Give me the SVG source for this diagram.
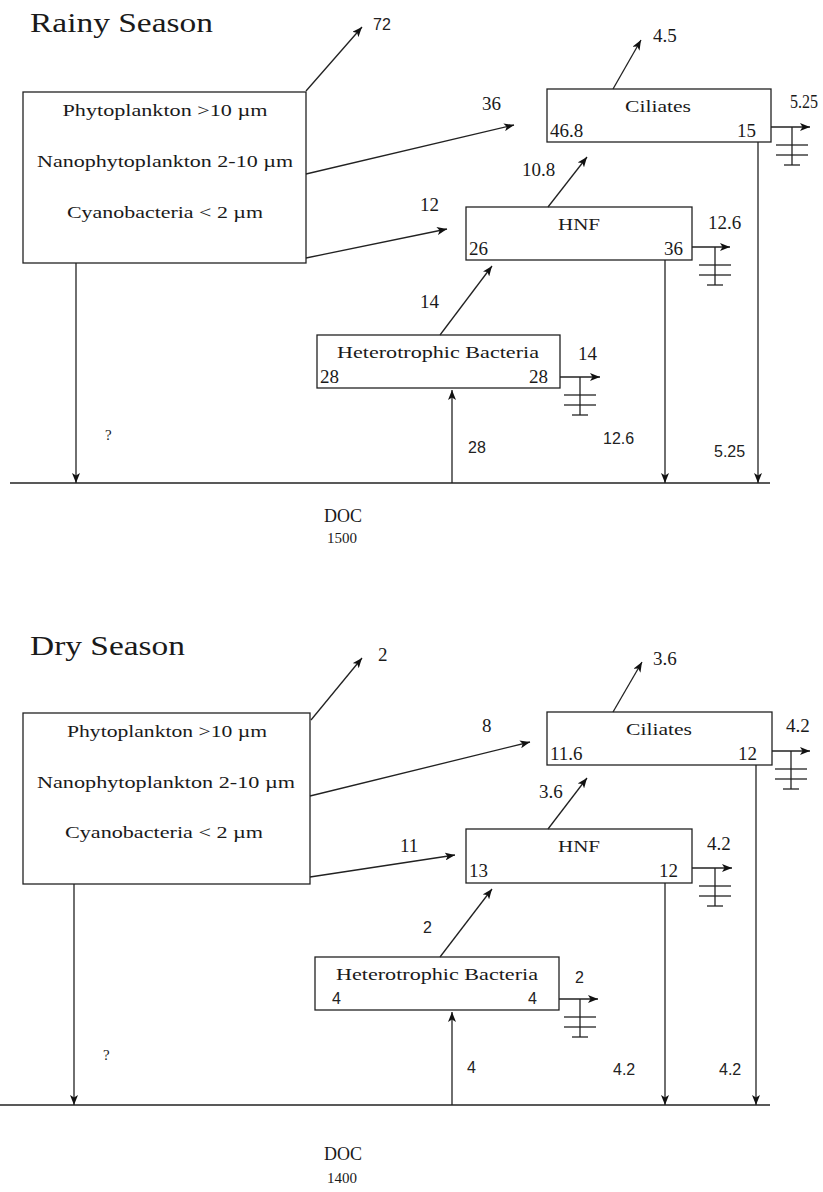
<svg xmlns="http://www.w3.org/2000/svg" xmlns:xlink="http://www.w3.org/1999/xlink" width="823" height="1192" viewBox="0 0 823 1192">
<style>
.box{fill:#fff;stroke:#222;stroke-width:1.3}
.ln{fill:none;stroke:#222;stroke-width:1.3}
.t{font-family:"Liberation Serif","Times New Roman",serif;fill:#1a1a1a}
.title{font-size:27px}
.nm{font-size:17px}
.num{font-size:19px}
.s{font-family:"Liberation Sans",Arial,sans-serif;font-size:16px;fill:#222}
.mid{text-anchor:middle}
.end{text-anchor:end}
</style>
<defs>
<marker id="ah" viewBox="0 0 10 8" refX="10" refY="4" markerWidth="10" markerHeight="8" markerUnits="userSpaceOnUse" orient="auto">
<path d="M0,0 L10,4 L0,8 L2.5,4 z" fill="#111"/>
</marker>
<g id="gnd">
<line class="ln" x1="0" y1="0" x2="0" y2="38"/>
<line class="ln" x1="-16" y1="18" x2="16" y2="18"/>
<line class="ln" x1="-16" y1="28" x2="16" y2="28"/>
<line class="ln" x1="-8" y1="38" x2="8" y2="38"/>
</g>
</defs>
<rect width="823" height="1192" fill="#fff"/>

<!-- ================= RAINY SEASON ================= -->
<text class="t title" x="30" y="32" textLength="183" lengthAdjust="spacingAndGlyphs">Rainy Season</text>

<g id="rainy-phyto">
<rect class="box" x="23" y="92" width="283" height="171"/>
<text class="t nm mid" x="165" y="116" textLength="205" lengthAdjust="spacingAndGlyphs">Phytoplankton &gt;10 µm</text>
<text class="t nm mid" x="165" y="167" textLength="256" lengthAdjust="spacingAndGlyphs">Nanophytoplankton 2-10 µm</text>
<text class="t nm mid" x="165" y="218" textLength="196" lengthAdjust="spacingAndGlyphs">Cyanobacteria &lt; 2 µm</text>
</g>

<g id="rainy-ciliates">
<rect class="box" x="547" y="89" width="224" height="53"/>
<text class="t nm mid" x="658" y="112" textLength="66" lengthAdjust="spacingAndGlyphs">Ciliates</text>
<text class="t num" x="550" y="137">46.8</text>
<text class="t num end" x="756" y="137">15</text>
</g>

<g id="rainy-hnf">
<rect class="box" x="466" y="207" width="226" height="53"/>
<text class="t nm mid" x="579" y="230" textLength="42" lengthAdjust="spacingAndGlyphs">HNF</text>
<text class="t num" x="469" y="255">26</text>
<text class="t num end" x="683" y="255">36</text>
</g>

<g id="rainy-bacteria">
<rect class="box" x="317" y="335" width="243" height="53"/>
<text class="t nm mid" x="438" y="358" textLength="202" lengthAdjust="spacingAndGlyphs">Heterotrophic Bacteria</text>
<text class="t num" x="320" y="383">28</text>
<text class="t num end" x="548" y="383">28</text>
</g>

<g id="rainy-doc">
<text class="t mid" x="343" y="522" font-size="18">DOC</text>
<text class="t mid" x="342" y="543" font-size="15">1500</text>
</g>

<g id="rainy-connectors">
<line class="ln" x1="10" y1="483" x2="770" y2="483"/>
<line class="ln" x1="306" y1="91" x2="362" y2="27" marker-end="url(#ah)"/>
<line class="ln" x1="306" y1="174" x2="514" y2="125" marker-end="url(#ah)"/>
<line class="ln" x1="306" y1="258" x2="447" y2="229" marker-end="url(#ah)"/>
<line class="ln" x1="613" y1="89" x2="641" y2="40" marker-end="url(#ah)"/>
<line class="ln" x1="548" y1="207" x2="587" y2="157" marker-end="url(#ah)"/>
<line class="ln" x1="440" y1="335" x2="492" y2="266" marker-end="url(#ah)"/>
<line class="ln" x1="771" y1="127" x2="810" y2="127" marker-end="url(#ah)"/>
<use xlink:href="#gnd" x="792" y="127"/>
<line class="ln" x1="692" y1="247" x2="730" y2="247" marker-end="url(#ah)"/>
<use xlink:href="#gnd" x="715" y="247"/>
<line class="ln" x1="560" y1="377" x2="600" y2="377" marker-end="url(#ah)"/>
<use xlink:href="#gnd" x="580" y="377"/>
<line class="ln" x1="76" y1="263" x2="76" y2="483" marker-end="url(#ah)"/>
<line class="ln" x1="665" y1="260" x2="665" y2="483" marker-end="url(#ah)"/>
<line class="ln" x1="758" y1="142" x2="758" y2="483" marker-end="url(#ah)"/>
<line class="ln" x1="452" y1="483" x2="452" y2="390" marker-end="url(#ah)"/>
<text class="s" x="373" y="30">72</text>
<text class="t num" x="482" y="110">36</text>
<text class="t num" x="420" y="211">12</text>
<text class="t num" x="653" y="42">4.5</text>
<text class="t" x="790" y="108" font-size="18" textLength="28" lengthAdjust="spacingAndGlyphs">5.25</text>
<text class="t num" x="522" y="176">10.8</text>
<text class="t num" x="708" y="229">12.6</text>
<text class="t num" x="420" y="308">14</text>
<text class="t num" x="578" y="360">14</text>
<text class="s" x="468" y="453">28</text>
<text class="s" x="603" y="444">12.6</text>
<text class="s" x="714" y="457">5.25</text>
<text class="t" x="105" y="440" font-size="15">?</text>
</g>

<!-- ================= DRY SEASON ================= -->
<text class="t title" x="30" y="655" textLength="155" lengthAdjust="spacingAndGlyphs">Dry Season</text>

<g id="dry-phyto">
<rect class="box" x="23" y="713" width="287" height="171"/>
<text class="t nm mid" x="167" y="737" textLength="200" lengthAdjust="spacingAndGlyphs">Phytoplankton &gt;10 µm</text>
<text class="t nm mid" x="166" y="788" textLength="258" lengthAdjust="spacingAndGlyphs">Nanophytoplankton 2-10 µm</text>
<text class="t nm mid" x="164" y="838" textLength="198" lengthAdjust="spacingAndGlyphs">Cyanobacteria &lt; 2 µm</text>
</g>

<g id="dry-ciliates">
<rect class="box" x="547" y="712" width="225" height="53"/>
<text class="t nm mid" x="659" y="735" textLength="66" lengthAdjust="spacingAndGlyphs">Ciliates</text>
<text class="t num" x="550" y="760">11.6</text>
<text class="t num end" x="757" y="760">12</text>
</g>

<g id="dry-hnf">
<rect class="box" x="466" y="829" width="226" height="54"/>
<text class="t nm mid" x="579" y="852" textLength="42" lengthAdjust="spacingAndGlyphs">HNF</text>
<text class="t num" x="469" y="877">13</text>
<text class="t num end" x="678" y="877">12</text>
</g>

<g id="dry-bacteria">
<rect class="box" x="315" y="957" width="244" height="53"/>
<text class="t nm mid" x="437" y="980" textLength="202" lengthAdjust="spacingAndGlyphs">Heterotrophic Bacteria</text>
<text class="s" x="332" y="1004" font-size="16">4</text>
<text class="s end" x="537" y="1004" font-size="16">4</text>
</g>

<g id="dry-doc">
<text class="t mid" x="343" y="1160" font-size="18">DOC</text>
<text class="t mid" x="342" y="1183" font-size="15">1400</text>
</g>

<g id="dry-connectors">
<line class="ln" x1="0" y1="1105" x2="770" y2="1105"/>
<line class="ln" x1="311" y1="720" x2="362" y2="658" marker-end="url(#ah)"/>
<line class="ln" x1="310" y1="796" x2="530" y2="742" marker-end="url(#ah)"/>
<line class="ln" x1="310" y1="877" x2="455" y2="855" marker-end="url(#ah)"/>
<line class="ln" x1="613" y1="712" x2="642" y2="662" marker-end="url(#ah)"/>
<line class="ln" x1="548" y1="829" x2="587" y2="778" marker-end="url(#ah)"/>
<line class="ln" x1="440" y1="957" x2="492" y2="889" marker-end="url(#ah)"/>
<line class="ln" x1="772" y1="751" x2="810" y2="751" marker-end="url(#ah)"/>
<use xlink:href="#gnd" x="791" y="751"/>
<line class="ln" x1="692" y1="868" x2="732" y2="868" marker-end="url(#ah)"/>
<use xlink:href="#gnd" x="715" y="868"/>
<line class="ln" x1="559" y1="999" x2="598" y2="999" marker-end="url(#ah)"/>
<use xlink:href="#gnd" x="580" y="999"/>
<line class="ln" x1="74" y1="884" x2="74" y2="1105" marker-end="url(#ah)"/>
<line class="ln" x1="665" y1="883" x2="665" y2="1105" marker-end="url(#ah)"/>
<line class="ln" x1="756" y1="765" x2="756" y2="1105" marker-end="url(#ah)"/>
<line class="ln" x1="452" y1="1105" x2="452" y2="1012" marker-end="url(#ah)"/>
<text class="t num" x="378" y="661">2</text>
<text class="t num" x="482" y="732">8</text>
<text class="t num" x="400" y="852">11</text>
<text class="t num" x="653" y="665">3.6</text>
<text class="t num" x="786" y="732">4.2</text>
<text class="t num" x="539" y="798">3.6</text>
<text class="t num" x="707" y="850">4.2</text>
<text class="s" x="423" y="933">2</text>
<text class="s" x="575" y="983">2</text>
<text class="s" x="467" y="1073">4</text>
<text class="s" x="613" y="1075">4.2</text>
<text class="s" x="719" y="1075">4.2</text>
<text class="t" x="103" y="1060" font-size="15">?</text>
</g>
</svg>
